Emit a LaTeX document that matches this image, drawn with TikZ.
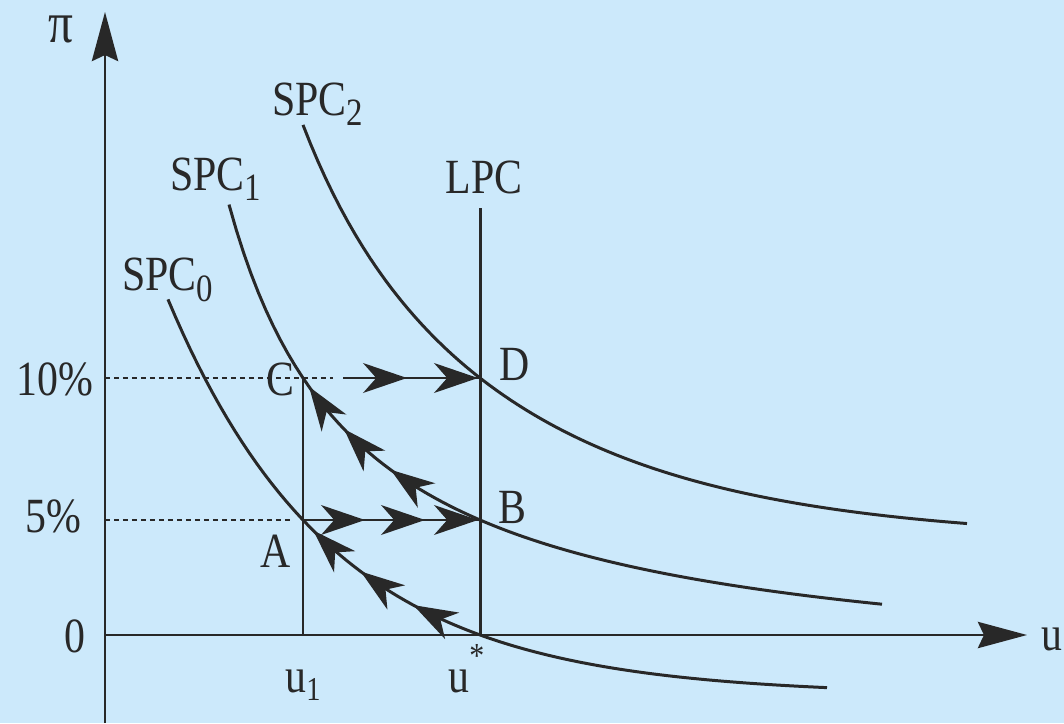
\documentclass[tikz,border=0pt]{standalone}
\usepackage{fontspec}
\setmainfont{Liberation Serif}[FakeStretch=0.85]
\usetikzlibrary{arrows.meta}
\usetikzlibrary{decorations.markings}
\definecolor{paneblue}{RGB}{204,233,251}
\definecolor{inkgrey}{RGB}{40,40,40}
\newcommand{\lowidx}[1]{\raisebox{-0.22cm}{\fontsize{22}{22}\selectfont #1}}

\begin{document}
\begin{tikzpicture}[
  x=0.02cm, y=-0.02cm,
  every node/.style={font=\fontsize{28}{30}\selectfont, text=inkgrey, inner sep=0pt},
  axis/.style={draw=inkgrey, line width=1.1pt, -{Stealth[length=28pt, width=15pt, inset=3.5pt]}},
  curve/.style={draw=inkgrey, line width=1.7pt},
  guide/.style={draw=inkgrey, line width=0.9pt, dash pattern=on 0.1cm off 0.08cm},
  flow/.style={draw=inkgrey, line width=1.2pt},
  fwd/.style={postaction={decorate, decoration={markings, mark=at position #1 with {\arrow{>}}}}},
  back/.style={postaction={decorate, decoration={markings, mark=at position #1 with {\arrowreversed{>}}}}},
]
\tikzset{>={Stealth[length=25pt, width=17pt, inset=7.5pt]}}
\fill[paneblue] (0,0) rectangle (1064,723);
\useasboundingbox (0,0) rectangle (1064,723);

\coordinate (O) at (105,635);
\coordinate (Ybot) at (105,723);
\coordinate (Ytop) at (105,12);
\coordinate (Xend) at (1027,635);
\coordinate (A) at (303,520);
\coordinate (B) at (480,520);
\coordinate (C) at (303,378);
\coordinate (D) at (480,378);
\coordinate (Us) at (480,635);
\coordinate (Uone) at (303,635);
\coordinate (LPCtop) at (480,208);
\coordinate (Cs) at (343,378);
\coordinate (Cguide) at (333,378);
\coordinate (Aguide) at (290,520);

\draw[axis] (Ybot) -- (Ytop);
\draw[axis] (O) -- (Xend);

\draw[guide] (O |- C) -- (Cguide);
\draw[guide] (O |- A) -- (Aguide);

\draw[curve] (C) -- (Uone);
\draw[curve] (LPCtop) -- (Us);

% SPC0 through A and u*
\draw[curve, back=5.5cm, back=6.75cm, back=8.0cm]
  plot[domain=168:827, samples=90] (\x, {695-175*exp(-(\x-303)/165.5)});
% SPC1 through C and B
\draw[curve, back=4.0cm, back=5.1cm, back=6.34cm]
  plot[domain=229:882, samples=90] (\x, {684.2-626.83/((\x-98.3)/100)});
% SPC2 through D
\draw[curve]
  plot[domain=303:967, samples=90] (\x, {540.5-160*exp(-(\x-480)/217)-2.48*exp(-(\x-480)/57.5)});

\draw[flow, fwd=1.24cm, fwd=2.44cm, fwd=3.5cm] (A) -- (B);
\draw[flow, fwd=1.28cm, fwd=2.7cm] (Cs) -- (D);

\node[anchor=base, font=\fontsize{33}{33}\selectfont] (piLab) at (61,43) {π};
\node[anchor=base west] (uLab) at (1041,650) {u};
\node[anchor=base] (tenLab) at (55,395) {10\%};
\node[anchor=base] (fiveLab) at (53,532) {5\%};
\node[anchor=base] (zeroLab) at (75,652) {0};
\node[anchor=base west] (spcZero) at (122,290) {SPC\lowidx{0}};
\node[anchor=base west] (spcOne) at (170,190) {SPC\lowidx{1}};
\node[anchor=base west] (spcTwo) at (272,115) {SPC\lowidx{2}};
\node[anchor=base] (lpcLab) at (484,193) {LPC};
\node[anchor=base] (labA) at (276,567) {A};
\node[anchor=base] (labB) at (512,523) {B};
\node[anchor=base] (labC) at (280,395) {C};
\node[anchor=base] (labD) at (515,380) {D};
\node[anchor=base west] (uOneLab) at (285,692) {u\raisebox{-0.16cm}{\fontsize{19}{19}\selectfont 1}};
\node[anchor=base west] (uStarLab) at (448,692) {u\raisebox{0.5cm}{\fontsize{20}{20}\selectfont *}};
\end{tikzpicture}
\end{document}
